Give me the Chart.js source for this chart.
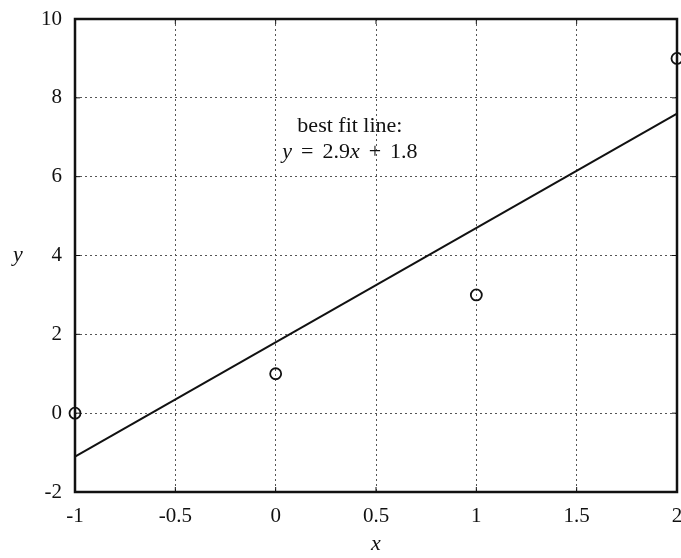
<!DOCTYPE html>
<html>
<head>
<meta charset="utf-8">
<script src="https://cdn.jsdelivr.net/npm/chart.js@4"></script>
<style>
  html, body { margin: 0; padding: 0; background: #fff; }
  #wrap { width: 681px; height: 558px; }
</style>
</head>
<body>
<div id="wrap"><canvas id="chart" width="681" height="558"></canvas></div>
<script>
// Data
const pointsX = [-1, 0, 1, 2];
const pointsY = [0, 1, 3, 9];
const fitX = [-1, 2];
const fitY = [-1.1, 7.6];
const xTicks = [-1, -0.5, 0, 0.5, 1, 1.5, 2];
const yTicks = [-2, 0, 2, 4, 6, 8, 10];

const FONT = "'Liberation Serif', 'DejaVu Serif', serif";

// Frame, inner ticks, labels
const decor = {
  id: "decor",
  afterDraw(chart) {
    const { ctx, chartArea: a, scales } = chart;
    const xs = scales.x, ys = scales.y;
    ctx.save();
    ctx.strokeStyle = "#111";
    ctx.lineWidth = 1;
    xTicks.forEach((v) => {
      const px = xs.getPixelForValue(v);
      ctx.beginPath();
      ctx.moveTo(px, a.bottom); ctx.lineTo(px, a.bottom - 5);
      ctx.moveTo(px, a.top); ctx.lineTo(px, a.top + 5);
      ctx.stroke();
    });
    yTicks.forEach((v) => {
      const py = ys.getPixelForValue(v);
      ctx.beginPath();
      ctx.moveTo(a.left, py); ctx.lineTo(a.left + 5, py);
      ctx.moveTo(a.right, py); ctx.lineTo(a.right - 5, py);
      ctx.stroke();
    });
    ctx.lineWidth = 2.5;
    ctx.strokeRect(a.left, a.top, a.right - a.left, a.bottom - a.top);

    // axis titles
    ctx.fillStyle = "#111";
    ctx.font = "italic 22px " + FONT;
    ctx.textAlign = "center";
    ctx.textBaseline = "middle";
    ctx.fillText("x", (a.left + a.right) / 2, 544);
    ctx.fillText("y", 18, ys.getPixelForValue(4));

    // annotation
    const cx = xs.getPixelForValue(0.37);
    const y1 = ys.getPixelForValue(7.28);
    const y2 = ys.getPixelForValue(6.62);
    ctx.font = "22px " + FONT;
    ctx.fillText("best fit line:", cx, y1);
    const R = "22px " + FONT, I = "italic 22px " + FONT;
    const parts = [
      ["y", I, 0], ["=", R, 9], ["2.9", R, 9], ["x", I, 0],
      ["+", R, 9], ["1.8", R, 9],
    ];
    let total = 0;
    parts.forEach(([t, f, g]) => { ctx.font = f; total += g + ctx.measureText(t).width; });
    let x = cx - total / 2;
    ctx.textAlign = "left";
    parts.forEach(([t, f, g]) => {
      ctx.font = f;
      x += g;
      ctx.fillText(t, x, y2);
      x += ctx.measureText(t).width;
    });
    ctx.restore();
  },
};

new Chart(document.getElementById("chart"), {
  type: "scatter",
  data: {
    datasets: [
      {
        label: "fit",
        data: fitX.map((x, i) => ({ x, y: fitY[i] })),
        showLine: true,
        borderColor: "#111",
        borderWidth: 2,
        pointRadius: 0,
        clip: false,
      },
      {
        label: "data",
        data: pointsX.map((x, i) => ({ x, y: pointsY[i] })),
        borderColor: "#111",
        backgroundColor: "rgba(0,0,0,0)",
        borderWidth: 1.8,
        pointRadius: 5.5,
        clip: false,
      },
    ],
  },
  options: {
    responsive: false,
    animation: false,
    layout: { autoPadding: false, padding: { left: 0, right: 4, top: 19, bottom: 0 } },
    plugins: { legend: { display: false }, tooltip: { enabled: false } },
    scales: {
      x: {
        type: "linear",
        min: -1,
        max: 2,
        afterBuildTicks: (s) => { s.ticks = xTicks.map((v) => ({ value: v })); },
        afterFit: (s) => { s.height = 66; s.paddingLeft = 0; s.paddingRight = 0; },
        border: { display: false, dash: [2, 3] },
        grid: { color: "#555", lineWidth: 1, drawTicks: false },
        ticks: {
          color: "#111",
          padding: 12,
          font: { family: FONT, size: 21 },
          callback: (v) => String(v),
        },
      },
      y: {
        type: "linear",
        min: -2,
        max: 10,
        afterBuildTicks: (s) => { s.ticks = yTicks.map((v) => ({ value: v })); },
        afterFit: (s) => { s.width = 75; s.paddingTop = 0; s.paddingBottom = 0; },
        border: { display: false, dash: [2, 3] },
        grid: { color: "#555", lineWidth: 1, drawTicks: false },
        ticks: {
          color: "#111",
          padding: 13,
          font: { family: FONT, size: 21 },
          callback: (v) => String(v),
        },
      },
    },
  },
  plugins: [decor],
});
</script>
</body>
</html>
